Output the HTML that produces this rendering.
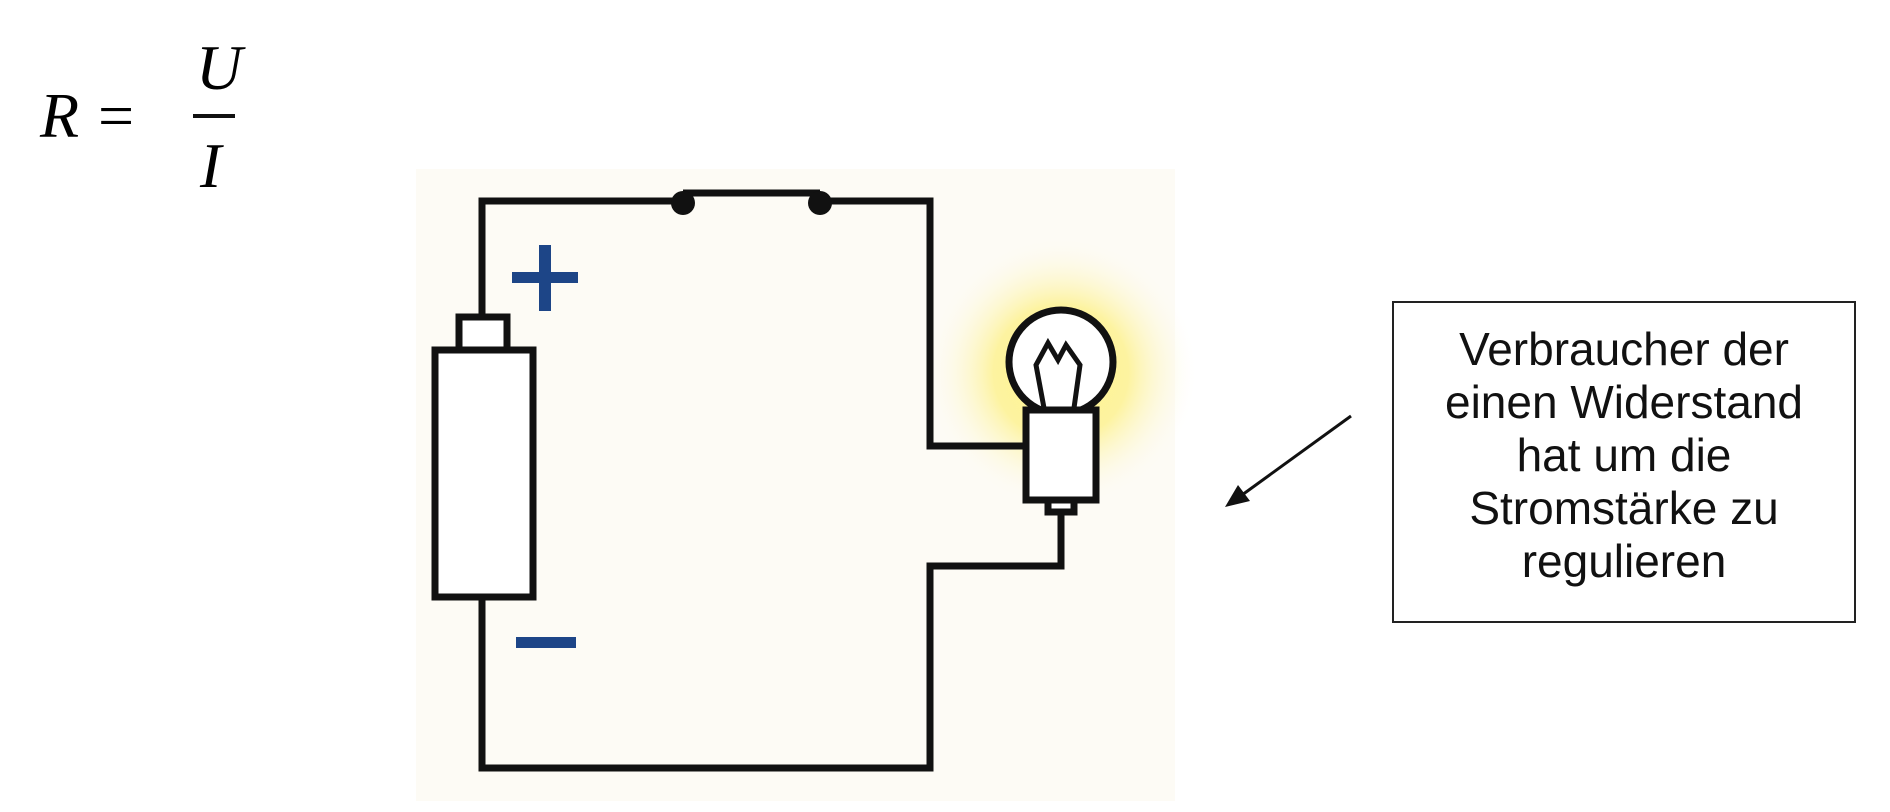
<!DOCTYPE html>
<html><head><meta charset="utf-8"><style>
body{margin:0;width:1890px;height:812px;background:#fff;overflow:hidden;position:relative;font-family:"Liberation Sans",sans-serif}
.f{position:absolute;font-family:"Liberation Serif",serif;font-style:italic;font-size:64px;line-height:1}
#box{position:absolute;left:1392px;top:301px;width:464px;height:322px;border:2px solid #222;box-sizing:border-box;text-align:center;font-size:46px;line-height:53px;padding-top:20px;color:#111;white-space:nowrap}
</style></head><body>
<div class="f" style="left:40px;top:84px">R</div>
<div class="f" style="left:98px;top:84px;font-style:normal">=</div>
<div class="f" style="left:196px;top:36px">U</div>
<div style="position:absolute;left:193px;top:114px;width:42px;height:4px;background:#111"></div>
<div class="f" style="left:200px;top:134px">I</div>
<svg width="1890" height="812" style="position:absolute;left:0;top:0">
<defs><radialGradient id="g"><stop offset="0" stop-color="#fff58a"/><stop offset="0.5" stop-color="#fdf3a0"/><stop offset="1" stop-color="#fdfbf5" stop-opacity="0"/></radialGradient></defs>
<rect x="416" y="169" width="759" height="632" fill="#fdfbf5"/>
<circle cx="1061" cy="372" r="135" fill="url(#g)"/>
<g stroke="#111" stroke-width="7" fill="none">
<polyline points="482,317 482,201 683,201"/>
<polyline points="683,193 820,193"/>
<polyline points="820,201 930,201 930,446 1024,446"/>
<polyline points="1061,512 1061,566 930,566 930,768 482,768 482,597"/>
<rect x="435" y="350" width="98" height="247" fill="#fff"/>
<rect x="459" y="317" width="48" height="33" fill="#fff"/>
<circle cx="1061" cy="362" r="52" fill="#fff"/>
<rect x="1026" y="410" width="70" height="90" fill="#fff"/>
<rect x="1048" y="500" width="26" height="12" fill="#fff"/>
<polyline stroke-width="5" points="1044,408 1036,365 1048,343 1058,360 1066,345 1080,365 1074,408"/>
</g>
<circle cx="683" cy="203" r="12" fill="#111"/>
<circle cx="820" cy="203" r="12" fill="#111"/>
<g fill="#1d4587">
<rect x="512" y="272" width="66" height="11"/>
<rect x="539" y="245" width="12" height="66"/>
<rect x="516" y="637" width="60" height="11"/>
</g>
<line x1="1351" y1="416" x2="1242" y2="495" stroke="#111" stroke-width="3"/>
<polygon points="1225,507 1238,485 1250,501" fill="#111"/>
</svg>
<div id="box">Verbraucher der<br>einen Widerstand<br>hat um die<br>Stromstärke zu<br>regulieren</div>
</body></html>
